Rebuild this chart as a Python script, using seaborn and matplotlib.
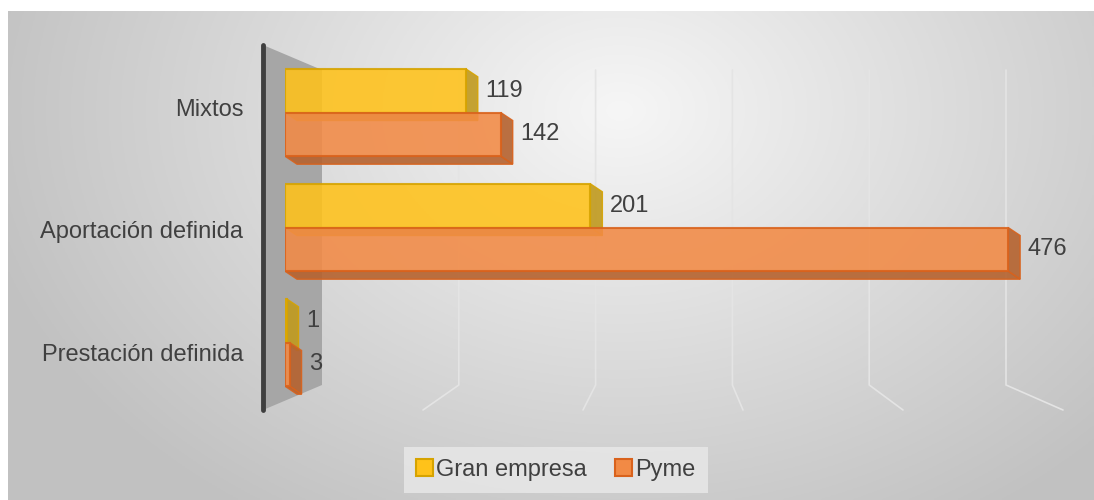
import numpy as np
import pandas as pd
import matplotlib
matplotlib.use("Agg")
import matplotlib.pyplot as plt
import seaborn as sns
from matplotlib.patches import Polygon, Patch
from matplotlib.transforms import IdentityTransform

# datos
categorias = ['Mixtos', 'Aportación definida', 'Prestación definida']
series = ['Gran empresa', 'Pyme']
gran_empresa = [119, 201, 1]
pyme = [142, 476, 3]
ticks_grid = [100, 200, 300, 400, 500]

df = pd.DataFrame({
    'tipo': categorias * 2,
    'empresa': [series[0]] * 3 + [series[1]] * 3,
    'valor': gran_empresa + pyme,
})

colores = {'Gran empresa': '#FFC21A', 'Pyme': '#F28A45'}
bordes = {'Gran empresa': '#D6A300', 'Pyme': '#D9621C'}
laterales = {'Gran empresa': '#C09A1E', 'Pyme': '#B5622E'}
txt = '#404040'

sns.set_theme(style='white')
plt.rcParams['font.family'] = ['Liberation Sans', 'DejaVu Sans']

W, H = 1094, 500
fig = plt.figure(figsize=(W / 100, H / 100), dpi=100)
fig.patch.set_facecolor('white')

# fondo con degradado radial (coordenadas en pixeles, y hacia abajo)
bg = fig.add_axes([0, 0, 1, 1])
bg.set_xlim(0, W)
bg.set_ylim(H, 0)
bg.axis('off')
xx, yy = np.meshgrid(np.linspace(8, W, 400), np.linspace(11, H, 200))
r = np.sqrt(((xx - 620) / 700) ** 2 + ((yy - 110) / 520) ** 2)
g = np.clip(0.965 - 0.22 * r, 0.76, 0.97)
bg.imshow(np.dstack([g, g, g]), extent=[8, W, H, 11], aspect='auto', zorder=0)

# cuadricula en perspectiva (pared del fondo y suelo)
for v in ticks_grid:
    xb = 322 + v * 1.368
    xf = 263 + v * 1.6
    bg.plot([xb, xb, xf], [70, 385, 410], color='#e4e4e4', lw=1.2, zorder=1)

# pared lateral y eje
bg.add_patch(Polygon([(263, 45), (322, 70), (322, 385), (263, 410)],
                     closed=True, facecolor='#a6a6a6', edgecolor='none', zorder=2))
bg.plot([263, 263], [45, 410], color='#3f3f3f', lw=3.5, solid_capstyle='round', zorder=3)

# barras
ax = fig.add_axes([285 / W, 1 - 400 / H, 790 / W, 345 / H])
ax.patch.set_alpha(0)
sns.barplot(data=df, y='tipo', x='valor', hue='empresa', orient='h',
            order=categorias, hue_order=series, palette=colores,
            saturation=1, width=0.76, alpha=0.88, ax=ax, legend=False, zorder=4)
ax.set_xlim(0, 520)
ax.set_ylim(2.5, -0.5)
ax.set_xlabel('')
ax.set_ylabel('')
ax.set_xticks([])
# etiquetas algo desplazadas, como en la vista 3D de Excel
ax.set_yticks([-0.04, 1.02, 2.09], categorias)
for s in ax.spines.values():
    s.set_visible(False)
ax.tick_params(axis='y', length=0, pad=30, labelsize=17, labelcolor=txt)

fig.canvas.draw()
dx, dy = 12, -8
for serie, cont in zip(series, ax.containers):
    for p in cont.patches:
        p.set_edgecolor(bordes[serie])
        p.set_linewidth(1.5)
        (x0, y0), (x1, y1) = ax.transData.transform(
            [(p.get_x(), p.get_y()), (p.get_x() + p.get_width(), p.get_y() + p.get_height())])
        ytop, ybot = max(y0, y1), min(y0, y1)
        lado = Polygon([(x1, ytop), (x1 + dx, ytop + dy), (x1 + dx, ybot + dy), (x1, ybot)],
                       closed=True, transform=IdentityTransform(), facecolor=laterales[serie],
                       edgecolor=bordes[serie], lw=1, alpha=0.9, zorder=3)
        base = Polygon([(x0, ybot), (x0 + dx, ybot + dy), (x1 + dx, ybot + dy), (x1, ybot)],
                       closed=True, transform=IdentityTransform(), facecolor=laterales[serie],
                       edgecolor=bordes[serie], lw=1, alpha=0.9, zorder=3)
        ax.add_artist(lado)
        ax.add_artist(base)
    ax.bar_label(cont, padding=14, fontsize=17, color=txt, zorder=6)

# leyenda
handles = [Patch(facecolor=colores[s], edgecolor=bordes[s], lw=1.5) for s in series]
leg = fig.legend(handles, series, loc='center', bbox_to_anchor=(556 / W, 1 - 470 / H),
                 ncol=2, fontsize=17, frameon=True, fancybox=False,
                 handlelength=0.7, handleheight=0.7, handletextpad=0.15,
                 columnspacing=1.2, borderpad=0.5, labelcolor=txt)
leg.get_frame().set_facecolor('#e9e9e9')
leg.get_frame().set_edgecolor('none')

fig.savefig('out.png', dpi=100)
